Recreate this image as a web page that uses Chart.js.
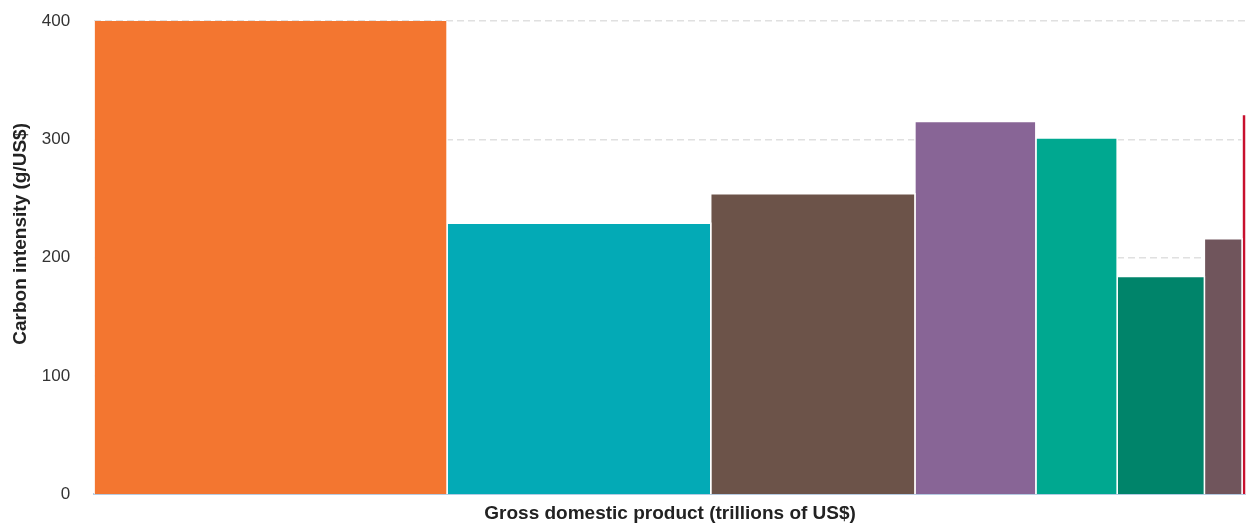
<!DOCTYPE html>
<html>
<head>
<meta charset="utf-8">
<script src="https://cdn.jsdelivr.net/npm/chart.js@4/dist/chart.umd.min.js"></script>
<style>
  body { margin: 0; background: #fff; }
  .wrap { width: 1246px; height: 525px; }
</style>
</head>
<body>
<div class="wrap"><canvas id="chart"></canvas></div>
<script>
// widths = GDP (trillions of US$), heights = carbon intensity (g/US$)
const groups = ['Group 1', 'Group 2', 'Group 3', 'Group 4', 'Group 5', 'Group 6', 'Group 7', 'Group 8']
const gdp = [17.8, 13.3, 10.3, 6.1, 4.1, 4.4, 1.9, 0.2]
const intensity = [410, 229, 254, 315, 301, 184, 216, 321]
const colours = ['#F37630', '#03AAB6', '#6C5349', '#886596', '#00A890', '#00846A', '#70555C', '#C8102E']
const yTicks = [0, 100, 200, 300, 400]

const font = 'Helvetica, Arial, "Liberation Sans", sans-serif'

// each bar is a filled rectangle whose width is the group's GDP
let start = 0
const datasets = groups.map((name, i) => {
  const end = start + gdp[i]
  const ds = {
    label: name,
    data: [
      { x: start, y: 0 },
      { x: start, y: intensity[i] },
      { x: end, y: intensity[i] },
      { x: end, y: 0 }
    ],
    backgroundColor: colours[i],
    borderColor: '#ffffff',
    borderWidth: 1.5,
    fill: 'origin',
    pointRadius: 0,
    tension: 0
  }
  start = end
  return ds
})
const total = start

new Chart(document.getElementById('chart').getContext('2d'), {
  type: 'line',
  data: { datasets: datasets },
  options: {
    responsive: true,
    maintainAspectRatio: false,
    animation: false,
    layout: { padding: { top: 21, right: 0, left: 6, bottom: 0 } },
    plugins: {
      legend: { display: false },
      tooltip: { enabled: false }
    },
    scales: {
      x: {
        type: 'linear',
        min: 0,
        max: total,
        ticks: { display: false },
        grid: { display: false, drawTicks: false },
        border: { display: true, color: '#b6cde4', width: 2 },
        title: {
          display: true,
          text: 'Gross domestic product (trillions of US$)',
          color: '#222',
          font: { family: font, size: 19, weight: 'bold' },
          padding: { top: 8, bottom: 0 }
        }
      },
      y: {
        min: 0,
        max: 400,
        afterBuildTicks: (axis) => { axis.ticks = yTicks.map(v => ({ value: v })) },
        // tick padding would otherwise push the plot down from the top
        afterFit: (axis) => { axis.paddingTop = 0; axis.paddingBottom = 0 },
        ticks: {
          color: '#333',
          padding: 24,
          font: { family: font, size: 17 }
        },
        grid: { color: '#e0e0e0', lineWidth: 1.5, drawTicks: false },
        border: { display: false, dash: [7, 4] },
        title: {
          display: true,
          // leading spaces nudge the title up a little, as in the original
          text: '         Carbon intensity (g/US$)',
          color: '#222',
          font: { family: font, size: 19, weight: 'bold' },
          padding: { top: 3, bottom: -14 }
        }
      }
    }
  }
})
</script>
</body>
</html>
